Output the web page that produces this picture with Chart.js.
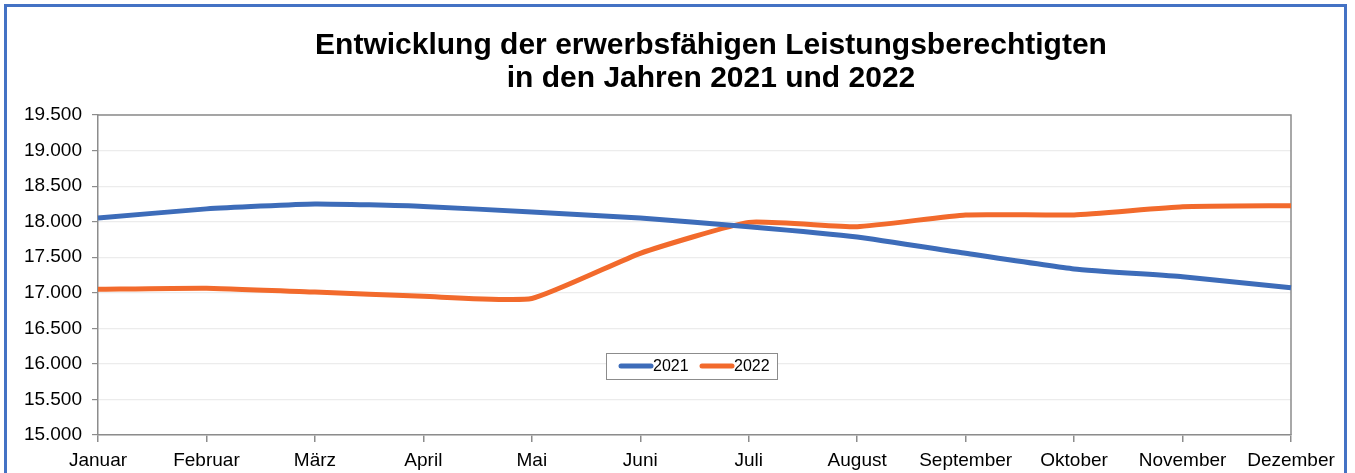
<!DOCTYPE html>
<html><head><meta charset="utf-8">
<script src="https://cdn.jsdelivr.net/npm/chart.js@4"></script>
<style>
html,body{margin:0;padding:0;background:#fff;}
#wrap{position:relative;width:1355px;height:473px;overflow:hidden;}
#frame{position:absolute;left:4px;top:4px;width:1343px;height:500px;border:3px solid #4472c4;box-sizing:border-box;pointer-events:none;}
canvas{position:absolute;left:0;top:0;}
</style></head>
<body>
<div id="wrap"><canvas id="c" width="1355" height="473"></canvas><div id="frame"></div></div>
<script>
const titleLines = ["Entwicklung der erwerbsfähigen Leistungsberechtigten", "in den Jahren 2021 und 2022"];
const months = ["Januar","Februar","März","April","Mai","Juni","Juli","August","September","Oktober","November","Dezember"];
const values2021 = [18050, 18180, 18250, 18215, 18135, 18050, 17930, 17785, 17555, 17335, 17225, 17070];
const values2022 = [17050, 17065, 17010, 16950, 16920, 17555, 17990, 17930, 18095, 18095, 18210, 18225];
const seriesLabels = ["2021", "2022"];
const seriesColors = ["#3d6cb9", "#f26a2c"];
const yMin = 15000, yMax = 19500, yStep = 500;

function fmt(v){ return String(Math.round(v)).replace(/\B(?=(\d{3})+(?!\d))/g, "."); }

const FONT = "'Liberation Sans', Arial, sans-serif";

const titlePlugin = {
  id: 'customTitle',
  afterDraw(chart){
    const ctx = chart.ctx;
    ctx.save();
    ctx.fillStyle = '#000';
    ctx.font = "bold 30px " + FONT;
    ctx.textAlign = 'center';
    ctx.textBaseline = 'middle';
    ctx.fillText(titleLines[0], 711, 46);
    ctx.fillText(titleLines[1], 711, 79);
    ctx.restore();
  }
};

const frameLegendPlugin = {
  id: 'frameLegend',
  beforeDatasetsDraw(chart){
    const {ctx, chartArea:a} = chart;
    ctx.save();
    ctx.strokeStyle = '#8c8c8c';
    ctx.lineWidth = 1.5;
    ctx.beginPath();
    ctx.moveTo(a.left, a.top); ctx.lineTo(a.right, a.top); ctx.lineTo(a.right, a.bottom);
    ctx.stroke();
    ctx.restore();
  },
  afterDraw(chart){
    const {ctx} = chart;
    const boxL = 606, boxT = 353, boxW = 171, boxH = 26;
    ctx.save();
    ctx.fillStyle = '#fff';
    ctx.fillRect(boxL, boxT, boxW, boxH);
    ctx.strokeStyle = '#8c8c8c';
    ctx.lineWidth = 1;
    ctx.strokeRect(boxL + 0.5, boxT + 0.5, boxW, boxH);
    ctx.font = "16px " + FONT;
    ctx.textBaseline = 'middle';
    ctx.textAlign = 'left';
    const cy = boxT + boxH/2;
    const starts = [619, 700];
    chart.data.datasets.forEach((ds, i) => {
      const x = starts[i];
      ctx.strokeStyle = ds.borderColor;
      ctx.lineWidth = 5;
      ctx.lineCap = 'round';
      ctx.beginPath(); ctx.moveTo(x + 2, cy); ctx.lineTo(x + 32, cy); ctx.stroke();
      ctx.fillStyle = '#000';
      ctx.fillText(ds.label, x + 34, cy + 1);
    });
    ctx.restore();
  }
};

new Chart(document.getElementById('c'), {
  type: 'line',
  data: {
    labels: months,
    datasets: [
      {label: seriesLabels[0], data: values2021, borderColor: seriesColors[0], backgroundColor: seriesColors[0], borderWidth: 5, pointRadius: 0, tension: 0.15, borderCapStyle: 'butt'},
      {label: seriesLabels[1], data: values2022, borderColor: seriesColors[1], backgroundColor: seriesColors[1], borderWidth: 5, pointRadius: 0, tension: 0.15, borderCapStyle: 'butt'}
    ]
  },
  options: {
    responsive: false,
    animation: false,
    events: [],
    layout: {padding: {top: 115, right: 64, bottom: 0, left: 10}},
    plugins: {legend: {display: false}, title: {display: false}, tooltip: {enabled: false}},
    scales: {
      x: {
        offset: false,
        grid: {display: true, drawOnChartArea: false, drawTicks: true, tickLength: 7, color: '#8c8c8c', lineWidth: 1.5},
        border: {display: true, color: '#8c8c8c', width: 1.5},
        ticks: {color: '#000', font: {size: 19, family: FONT}, padding: 7, maxRotation: 0, autoSkip: false},
        afterFit(s){ s.height = 38; }
      },
      y: {
        min: yMin, max: yMax,
        grid: {color: '#ececec', lineWidth: 1.2, drawTicks: true, tickLength: 6, tickColor: '#8c8c8c'},
        border: {display: true, color: '#8c8c8c', width: 1.5},
        ticks: {stepSize: yStep, color: '#000', font: {size: 19, family: FONT}, padding: 10, callback: v => fmt(v)},
        afterFit(s){ s.width = 88; }
      }
    }
  },
  plugins: [titlePlugin, frameLegendPlugin]
});
</script>
</body></html>
